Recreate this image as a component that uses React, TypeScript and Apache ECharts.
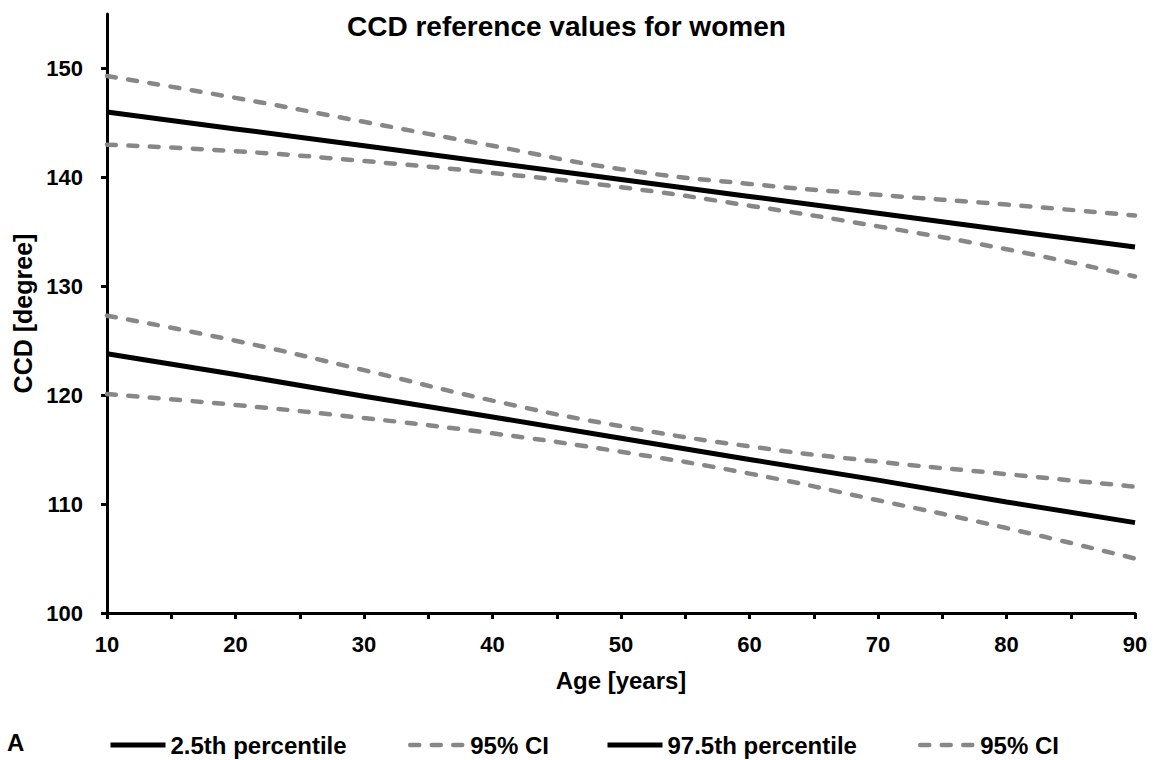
import React, { useEffect, useRef } from "react";
import * as echarts from "echarts";

const ages = [10, 20, 30, 40, 50, 60, 70, 80, 90];
const p975 = [146.0, 144.45, 142.9, 141.35, 139.8, 138.25, 136.7, 135.15, 133.6];
const p975CIUpper = [149.3, 147.3, 145.1, 142.9, 140.75, 139.4, 138.4, 137.5, 136.5];
const p975CILower = [143.0, 142.4, 141.5, 140.4, 139.1, 137.4, 135.5, 133.4, 130.9];
const p25 = [123.8, 121.9, 119.9, 118.0, 116.05, 114.1, 112.2, 110.2, 108.3];
const p25CIUpper = [127.3, 125.0, 122.3, 119.5, 117.15, 115.3, 113.9, 112.75, 111.6];
const p25CILower = [120.1, 119.1, 117.9, 116.5, 114.8, 112.8, 110.35, 107.8, 105.0];

const xTickValues = [10, 15, 20, 25, 30, 35, 40, 45, 50, 55, 60, 65, 70, 75, 80, 85, 90];
const xLabelValues = [10, 20, 30, 40, 50, 60, 70, 80, 90];
const yTickValues = [100, 110, 120, 130, 140, 150];

const FONT = "'Liberation Sans', Arial, sans-serif";
const GRAY = "#878787";

const pair = (ys: number[]) => ages.map((a, i) => [a, ys[i]]);

export default function App() {
  const ref = useRef<HTMLDivElement>(null);
  useEffect(() => {
    if (!ref.current) return;
    const chart = echarts.init(ref.current, undefined, { renderer: "svg" });
    const solid = (name: string, ys: number[]) => ({
      name,
      type: "line",
      data: pair(ys),
      symbol: "none",
      lineStyle: { color: "#000", width: 5, type: "solid" },
      itemStyle: { color: "#000" },
      z: 3,
    });
    const dashed = (ys: number[]) => ({
      name: "95% CI",
      type: "line",
      data: pair(ys),
      symbol: "none",
      smooth: true,
      lineStyle: { color: GRAY, width: 4.5, type: [9, 12.5], cap: "round" },
      itemStyle: { color: GRAY },
      z: 2,
    });
    const legendBase = {
      top: 733,
      padding: 0,
      itemWidth: 55,
      itemHeight: 2,
      selectedMode: false,
      itemStyle: { opacity: 0 },
      textStyle: { fontFamily: FONT, fontWeight: "bold", fontSize: 24, color: "#000" },
    };
    chart.setOption({
      animation: false,
      backgroundColor: "#fff",
      title: {
        text: "CCD reference values for women",
        left: 342,
        top: 7,
        textStyle: { fontFamily: FONT, fontWeight: "bold", fontSize: 28, color: "#000" },
      },
      grid: { left: 107, right: 23, top: 14, bottom: 147, containLabel: false },
      legend: [
        { ...legendBase, left: 108, lineStyle: { width: 5 }, data: ["2.5th percentile"] },
        { ...legendBase, left: 408, lineStyle: { width: 4.5 }, data: ["95% CI"] },
        { ...legendBase, left: 605, lineStyle: { width: 5 }, data: ["97.5th percentile"] },
        { ...legendBase, left: 918, lineStyle: { width: 4.5 }, data: ["95% CI"] },
      ],
      xAxis: {
        type: "value",
        min: 10,
        max: 90,
        interval: 10,
        name: "Age [years]",
        nameLocation: "middle",
        nameGap: 55,
        nameTextStyle: { fontFamily: FONT, fontWeight: "bold", fontSize: 24, color: "#000" },
        axisLine: { show: true, onZero: false, lineStyle: { color: "#000", width: 3 } },
        axisTick: { show: true, inside: false, length: 6, customValues: xTickValues, lineStyle: { color: "#000", width: 3 } },
        axisLabel: { margin: 20, customValues: xLabelValues, fontFamily: FONT, fontWeight: "bold", fontSize: 22, color: "#000" },
        splitLine: { show: false },
      },
      yAxis: {
        type: "value",
        min: 100,
        max: 155,
        interval: 10,
        name: "CCD [degree]",
        nameLocation: "middle",
        nameGap: 68,
        nameTextStyle: { fontFamily: FONT, fontWeight: "bold", fontSize: 25, color: "#000" },
        axisLine: { show: true, onZero: false, lineStyle: { color: "#000", width: 3 } },
        axisTick: { show: true, inside: false, length: 6, customValues: yTickValues, lineStyle: { color: "#000", width: 3 } },
        axisLabel: { margin: 24, customValues: yTickValues, fontFamily: FONT, fontWeight: "bold", fontSize: 22, color: "#000" },
        splitLine: { show: false },
      },
      graphic: [
        {
          type: "text",
          left: 7,
          top: 730,
          style: { text: "A", fontFamily: FONT, fontWeight: "bold", fontSize: 24, fill: "#000" },
        },
      ],
      series: [
        solid("2.5th percentile", p25),
        dashed(p25CIUpper),
        dashed(p25CILower),
        solid("97.5th percentile", p975),
        dashed(p975CIUpper),
        dashed(p975CILower),
      ],
    });
    return () => chart.dispose();
  }, []);
  return (
    <div
      ref={ref}
      style={{ position: "fixed", left: 0, top: 0, width: 1158, height: 760, background: "#fff" }}
    />
  );
}
